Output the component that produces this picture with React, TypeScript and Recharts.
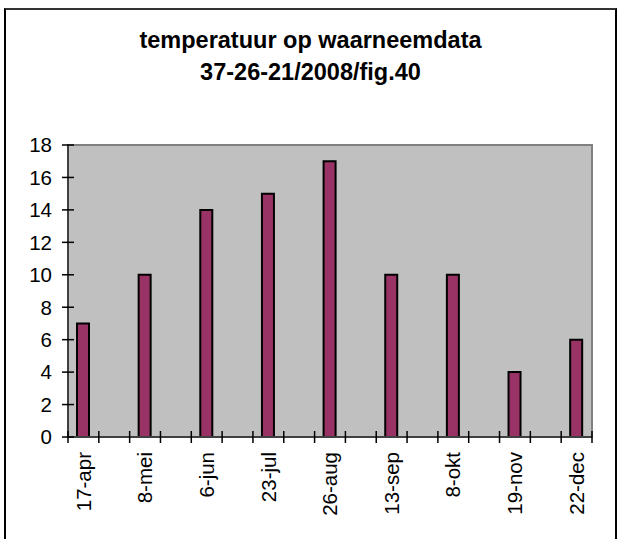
import { BarChart, Bar, XAxis, YAxis, ReferenceArea } from 'recharts';

const dates = ['17-apr', '8-mei', '6-jun', '23-jul', '26-aug', '13-sep', '8-okt', '19-nov', '22-dec'];
const temps = [7, 10, 14, 15, 17, 10, 10, 4, 6];
const yTicks = [0, 2, 4, 6, 8, 10, 12, 14, 16, 18];

// every measured date is followed by an empty slot, like the original sheet
const data: { date: string; temp: number | null }[] = [];
dates.forEach((d, i) => {
  data.push({ date: d, temp: temps[i] });
  if (i < dates.length - 1) data.push({ date: `gap-${i}`, temp: null });
});

const font = '"Liberation Sans", Arial, sans-serif';

function YTick({ x, y, payload }: any) {
  return (
    <g>
      <line x1={x - 6} x2={x + 6} y1={y} y2={y} stroke="#000" strokeWidth={1.5} />
      <text x={x - 16} y={y} dy="0.36em" textAnchor="end" fontSize={20.5} fontFamily={font} fill="#000">
        {payload.value}
      </text>
    </g>
  );
}

// tick marks sit between the categories, labels only on the measured dates
function DateTick({ x, y, payload, index, visibleTicksCount }: any) {
  const half = payload.offset || 0;
  const isGap = String(payload.value).startsWith('gap');
  return (
    <g>
      <line x1={x - half} x2={x - half} y1={y - 6} y2={y + 6} stroke="#000" strokeWidth={1.5} />
      {index === visibleTicksCount - 1 && (
        <line x1={x + half} x2={x + half} y1={y - 6} y2={y + 6} stroke="#000" strokeWidth={1.5} />
      )}
      {!isGap && (
        <text
          x={x}
          y={y + 15}
          dy="0.35em"
          textAnchor="end"
          transform={`rotate(-90, ${x}, ${y + 15})`}
          fontSize={20.5}
          fontFamily={font}
          fill="#000"
        >
          {payload.value}
        </text>
      )}
    </g>
  );
}

export default function App() {
  return (
    <div style={{ position: 'absolute', left: 0, top: 0, width: 620, height: 539, background: '#fff', overflow: 'hidden' }}>
      <div
        style={{
          position: 'absolute',
          left: 4,
          top: 8,
          width: 609,
          height: 560,
          borderLeft: '2px solid #000',
          borderRight: '2px solid #000',
          borderTop: '2px solid #333',
        }}
      />
      <div
        style={{
          position: 'absolute',
          left: 0,
          top: 24,
          width: 621,
          textAlign: 'center',
          fontFamily: font,
          fontWeight: 'bold',
          fontSize: 23.5,
          lineHeight: '32px',
          color: '#000',
        }}
      >
        temperatuur op waarneemdata
        <br />
        37-26-21/2008/fig.40
      </div>
      <div style={{ position: 'absolute', left: 0, top: 0 }}>
        <BarChart width={620} height={539} data={data} margin={{ top: 145, right: 28, bottom: 0, left: 0 }}>
          <ReferenceArea yAxisId="t" y1={0} y2={18} fill="#C0C0C0" fillOpacity={1} stroke="#808080" strokeWidth={2} />
          <XAxis
            dataKey="date"
            height={102}
            interval={0}
            tickLine={false}
            tickSize={0}
            tickMargin={0}
            tick={<DateTick />}
            axisLine={{ stroke: '#404040', strokeWidth: 2 }}
          />
          <YAxis
            yAxisId="t"
            width={68}
            domain={[0, 18]}
            ticks={yTicks}
            interval={0}
            tickLine={false}
            tickSize={0}
            tickMargin={0}
            tick={<YTick />}
            axisLine={{ stroke: '#404040', strokeWidth: 2 }}
          />
          <Bar
            yAxisId="t"
            dataKey="temp"
            barSize={12}
            fill="#993366"
            stroke="#000"
            strokeWidth={2}
            isAnimationActive={false}
          />
        </BarChart>
      </div>
    </div>
  );
}
